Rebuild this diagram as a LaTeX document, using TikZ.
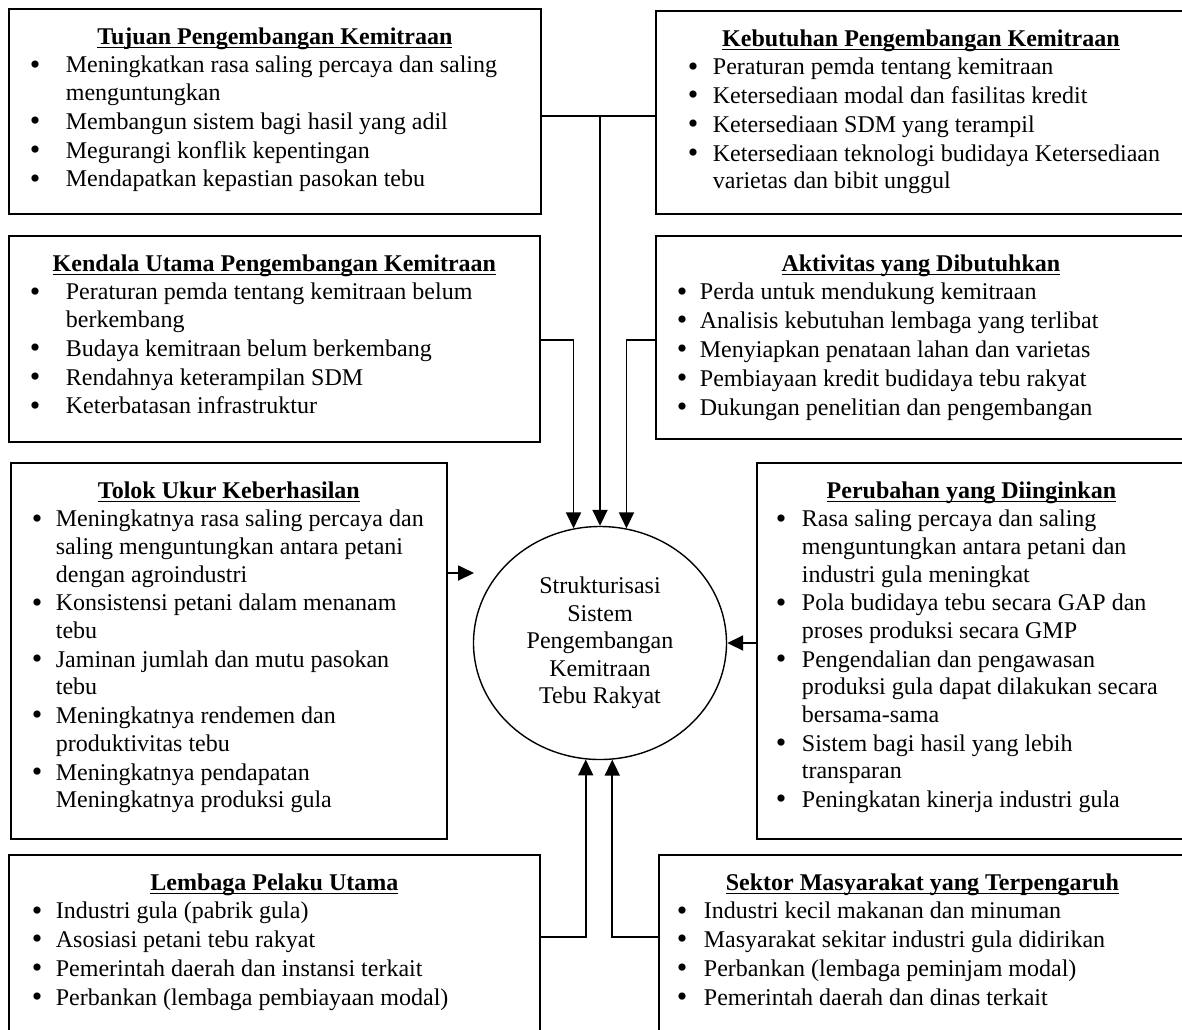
\documentclass[tikz,border=0pt]{standalone}
\usepackage{fontspec}
\setmainfont{Liberation Serif}
\usetikzlibrary{arrows.meta,shapes.geometric}

\newlength\bul
\newlength\ind
\newcommand{\judul}[1]{\noindent\makebox[\linewidth]{\strut\setbox0\hbox{\bfseries #1}\rlap{\rule[-2pt]{\wd0}{0.75pt}}\box0}\par}
\newcommand{\poin}[1]{\hangindent=\ind\hangafter=1\noindent\hspace*{\bul}\makebox[\dimexpr\ind-\bul\relax][l]{\raisebox{-0.6pt}{\fontsize{15}{0}\selectfont\textbullet}}#1\par}
\newcommand{\isi}[5]{\parbox[t][#2][t]{#1}{\setlength{\bul}{#3}\setlength{\ind}{#4}\setlength{\parskip}{0.6pt}\vspace*{7.3pt}#5}}

\tikzset{
  kotak/.style={draw, line width=0.9pt, inner sep=0pt, anchor=north west, font=\fontsize{12}{13.8}\selectfont},
  garis/.style={line width=0.9pt},
  panah/.style={line width=0.9pt, -{Triangle[length=8pt, width=7.5pt]}}
}

\begin{document}
\begin{tikzpicture}[x=0.5pt, y=-0.5pt]
    \useasboundingbox (0,0) rectangle (1182,1029);

    \node [kotak] (tujuan) at (8, 8) {\isi{266pt}{102.5pt}{10.5pt}{28.5pt}{%
        \judul{Tujuan Pengembangan Kemitraan}
        \poin{Meningkatkan rasa saling percaya dan saling\\menguntungkan}
        \poin{Membangun sistem bagi hasil yang adil}
        \poin{Megurangi konflik kepentingan}
        \poin{Mendapatkan kepastian pasokan tebu}}};
    \node [kotak] (kebutuhan) at (655, 10) {\isi{265pt}{101.5pt}{16pt}{28.5pt}{%
        \judul{Kebutuhan Pengembangan Kemitraan}
        \poin{Peraturan pemda tentang kemitraan}
        \poin{Ketersediaan modal dan fasilitas kredit}
        \poin{Ketersediaan SDM yang terampil}
        \poin{Ketersediaan teknologi budidaya Ketersediaan\\varietas dan bibit unggul}}};
    \node [kotak] (kendala) at (8, 235) {\isi{265.5pt}{103pt}{10.5pt}{28.5pt}{%
        \judul{Kendala Utama Pengembangan Kemitraan}
        \poin{Peraturan pemda tentang kemitraan belum\\berkembang}
        \poin{Budaya kemitraan belum berkembang}
        \poin{Rendahnya keterampilan SDM}
        \poin{Keterbatasan infrastruktur}}};
    \node [kotak] (aktivitas) at (655, 235) {\isi{265pt}{101.5pt}{10.5pt}{22pt}{%
        \judul{Aktivitas yang Dibutuhkan}
        \poin{Perda untuk mendukung kemitraan}
        \poin{Analisis kebutuhan lembaga yang terlibat}
        \poin{Menyiapkan penataan lahan dan varietas}
        \poin{Pembiayaan kredit budidaya tebu rakyat}
        \poin{Dukungan penelitian dan pengembangan}}};
    \node [kotak] (tolok) at (10, 462) {\isi{218pt}{188pt}{10.5pt}{22.5pt}{%
        \judul{Tolok Ukur Keberhasilan}
        \poin{Meningkatnya rasa saling percaya dan\\saling menguntungkan antara petani\\dengan agroindustri}
        \poin{Konsistensi petani dalam menanam\\tebu}
        \poin{Jaminan jumlah dan mutu pasokan\\tebu}
        \poin{Meningkatnya rendemen dan\\produktivitas tebu}
        \poin{Meningkatnya pendapatan\\Meningkatnya produksi gula}}};
    \node [kotak] (perubahan) at (756, 462) {\isi{214.5pt}{188pt}{9.5pt}{22.5pt}{%
        \judul{Perubahan yang Diinginkan}
        \poin{Rasa saling percaya dan saling\\menguntungkan antara petani dan\\industri gula meningkat}
        \poin{Pola budidaya tebu secara GAP dan\\proses produksi secara GMP}
        \poin{Pengendalian dan pengawasan\\produksi gula dapat dilakukan secara\\bersama-sama}
        \poin{Sistem bagi hasil yang lebih\\transparan}
        \poin{Peningkatan kinerja industri gula}}};
    \node [kotak] (lembaga) at (8, 854) {\isi{265.5pt}{93pt}{11.5pt}{23.5pt}{%
        \judul{Lembaga Pelaku Utama}
        \poin{Industri gula (pabrik gula)}
        \poin{Asosiasi petani tebu rakyat}
        \poin{Pemerintah daerah dan instansi terkait}
        \poin{Perbankan (lembaga pembiayaan modal)}}};
    \node [kotak] (sektor) at (658, 854) {\isi{263.5pt}{93pt}{9pt}{22.5pt}{%
        \judul{Sektor Masyarakat yang Terpengaruh}
        \poin{Industri kecil makanan dan minuman}
        \poin{Masyarakat sekitar industri gula didirikan}
        \poin{Perbankan (lembaga peminjam modal)}
        \poin{Pemerintah daerah dan dinas terkait}}};

    \node [ellipse, draw, line width=0.7pt, minimum width=126.5pt, minimum height=116.5pt, inner sep=0pt,
           align=center, font=\fontsize{12}{13.8}\selectfont] (strukt) at (600, 643)
          {Strukturisasi\\Sistem\\Pengembangan\\Kemitraan\\Tebu Rakyat};

    \coordinate (simpul) at (strukt.north |- 0,116);
    \coordinate (ujungtolok) at (474, 573);
    \draw [garis] (tujuan.east |- simpul) -- (kebutuhan.west |- simpul);
    \draw [panah] (simpul) -- (strukt.north);
    \draw [panah] (kendala.east |- 0,340) -| (strukt.103);
    \draw [panah] (aktivitas.west |- 0,340) -| (strukt.77);
    \draw [panah] (tolok.east |- ujungtolok) -- (ujungtolok);
    \draw [panah] (perubahan.west |- strukt.east) -- (strukt.east);
    \draw [panah] (lembaga.east |- 0,937) -| (strukt.263);
    \draw [panah] (sektor.west |- 0,937) -| (strukt.276);
\end{tikzpicture}
\end{document}
